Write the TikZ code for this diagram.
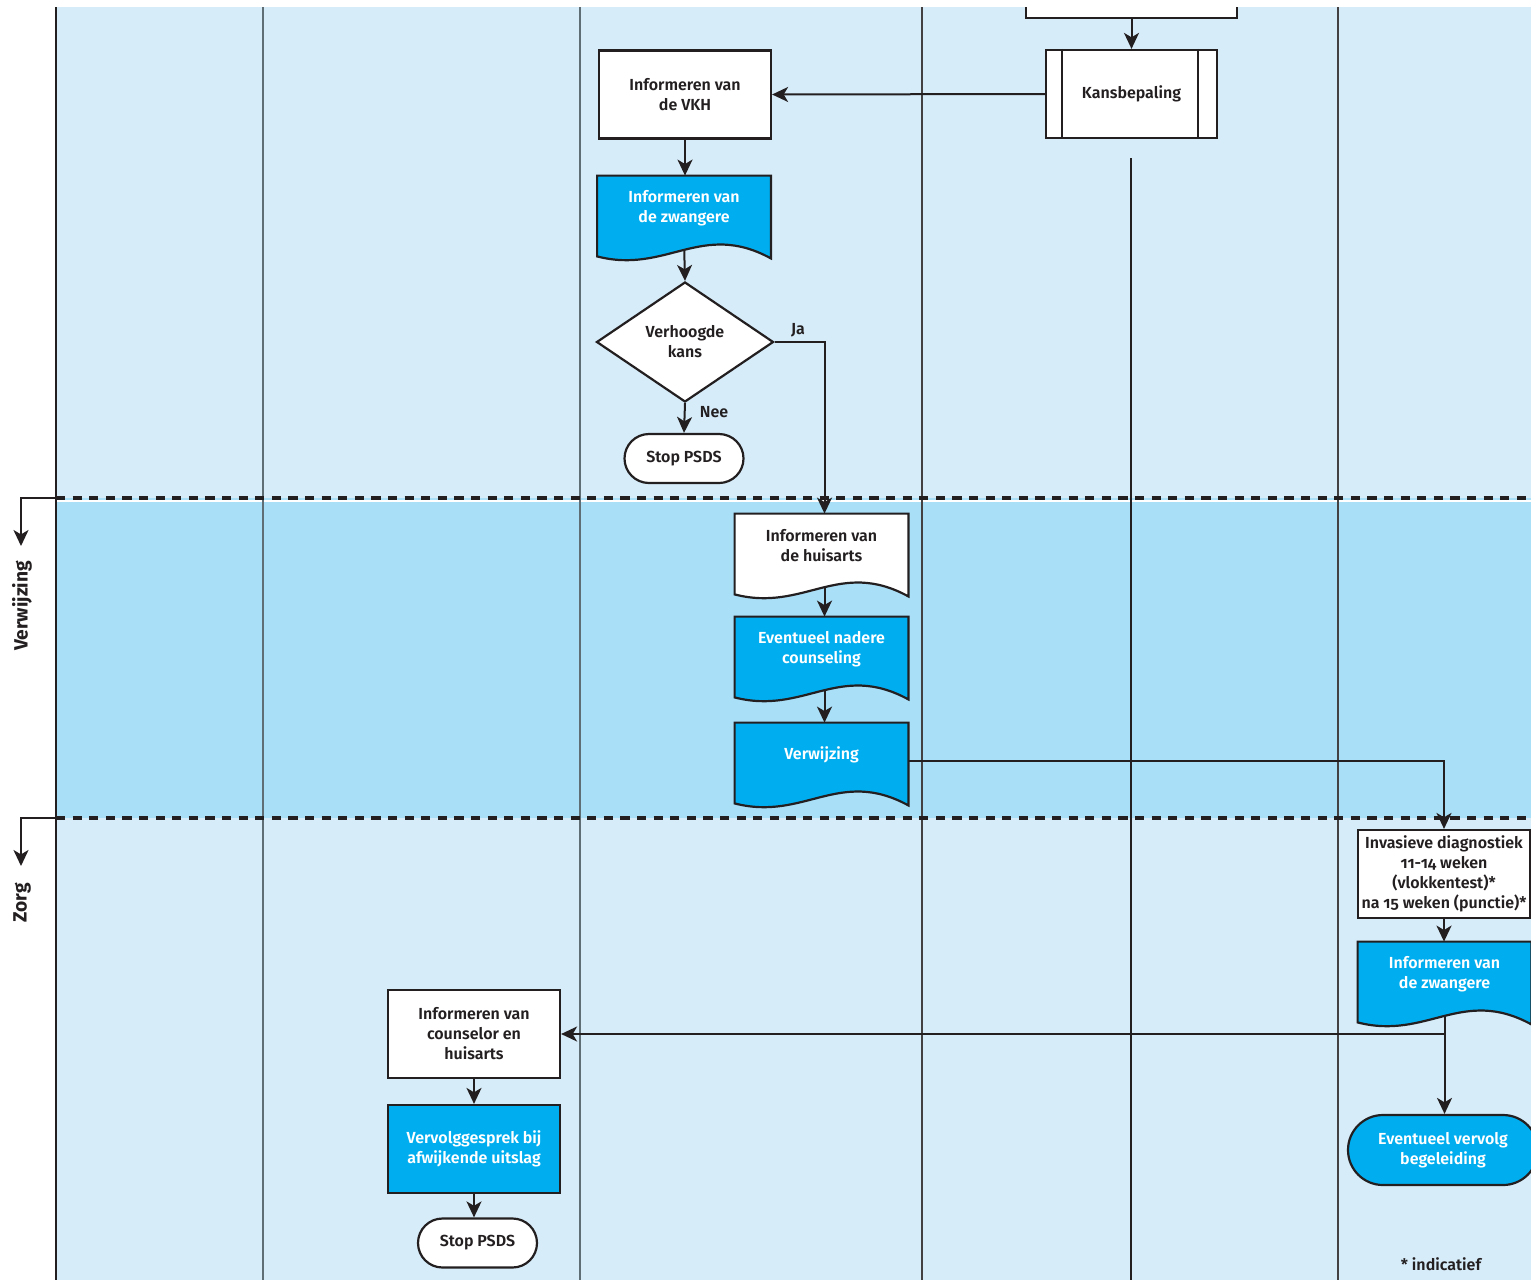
\documentclass[tikz,border=0pt]{standalone}
\usepackage{fontspec}
\setmainfont{Fira Sans}[BoldFont={Fira Sans SemiBold}, Numbers=OldStyle]
\newfontfamily\phasefont{Fira Sans Bold}
\usetikzlibrary{shapes.geometric, arrows.meta, calc}

\definecolor{laneblue}{HTML}{D6ECF9}
\definecolor{bandblue}{HTML}{AADFF8}
\definecolor{boxcyan}{HTML}{00AEEF}
\definecolor{ink}{HTML}{231F20}
\definecolor{lanegray}{HTML}{5E6E74}

\pgfdeclarelayer{lanes}
\pgfdeclarelayer{links}
\pgfdeclarelayer{shapes}
\pgfsetlayers{lanes,links,shapes,main}

\tikzset{
  lbl/.style={font=\fontsize{8}{10}\selectfont\bfseries, text=ink, align=center},
  procbox/.style={lbl, rectangle, draw=ink, line width=1.1pt,
    minimum width=86pt, minimum height=44pt, inner sep=0pt},
  whitebox/.style={procbox, fill=white},
  cyanbox/.style={procbox, fill=boxcyan, text=white},
  docbox/.style={lbl, rectangle, minimum width=86.5pt, minimum height=32pt, inner sep=0pt},
  docline/.style={draw=ink, line width=1.1pt},
  stopbox/.style={lbl, rectangle, rounded corners=12.25pt, draw=ink, line width=1.1pt,
    fill=white, minimum width=59.5pt, minimum height=24.5pt, inner sep=0pt},
  decision/.style={lbl, diamond, draw=ink, line width=1.1pt, fill=white,
    minimum width=88.5pt, minimum height=60pt, inner sep=0pt},
  link/.style={draw=ink, line width=1pt, -{Stealth[length=8pt,width=7.5pt,inset=2.2pt]}},
  laneline/.style={line width=0.9pt},
  phaseline/.style={draw=ink, line width=2.2pt, dash pattern=on 4.6pt off 3.7pt},
  phaselabel/.style={font=\phasefont\fontsize{9.6}{11}\selectfont, text=ink, rotate=90},
  note/.style={font=\fontsize{8}{10}\selectfont\bfseries, text=ink}
}

% outline of a document symbol (wavy bottom) drawn behind its text node
\newcommand\docoutline[2]{%
  \begin{pgfonlayer}{shapes}
    \path[docline, fill=#2]
      ($(#1.south west)+(0,16)$) -- (#1.north west) -- (#1.north east)
      -- ($(#1.south east)+(0,18)$)
      .. controls ($(#1.south west)!0.6!(#1.south east)+(0,-20)$)
             and ($(#1.south west)!0.4!(#1.south east)+(0,34)$)
      .. ($(#1.south west)+(0,16)$) -- cycle;
  \end{pgfonlayer}}

\begin{document}
\begin{tikzpicture}[x=0.5pt, y=-0.5pt]
\useasboundingbox (0,0) rectangle (1531,1280);

% swimlane backgrounds, lane separators and phase borders
\begin{pgfonlayer}{lanes}
  \begin{scope}
    \clip (0,7) rectangle (1531,1280);
    \fill[laneblue] (55,7) rectangle (1531,1280);
    \fill[bandblue] (55,498) rectangle (1531,818);
    \draw[white, line width=1pt] (55,501) -- (1531,501);
    \draw[laneline, lanegray] (263,7) -- (263,1280);
    \draw[laneline, lanegray] (580,7) -- (580,1280);
    \draw[laneline, ink!85] (922,7) -- (922,1280);
    \draw[laneline, ink] (1131,158) -- (1131,1280);
    \draw[laneline, ink!85] (1338,7) -- (1338,1280);
    \draw[phaseline] (56,498) -- (1531,498);
    \draw[phaseline] (56,818) -- (1531,818);
    \draw[ink, line width=1.4pt] (56,7) -- (56,1280);
  \end{scope}
\end{pgfonlayer}

% process symbols
\begin{scope}
  \clip (0,7) rectangle (1531,1280);
  \node[whitebox, minimum width=105.5pt, minimum height=38pt] (prev) at (1131.5,-20) {};
  \node[whitebox, minimum width=85.5pt] (kans) at (1131.5,94) {Kansbepaling};
  \draw[ink, line width=1pt] ([xshift=8.5pt]kans.north west) -- ([xshift=8.5pt]kans.south west);
  \draw[ink, line width=1pt] ([xshift=-10pt]kans.north east) -- ([xshift=-10pt]kans.south east);

  \node[whitebox] (vkh) at (685,94.5) {Informeren van\\de VKH};
  \node[docbox, text=white] (zw1) at (684,208) {Informeren van\\de zwangere};
  \node[decision] (dia) at (685,342) {Verhoogde\\kans};
  \node[stopbox] (stop1) at (684,458.5) {Stop PSDS};

  \node[docbox] (huis) at (821.5,546) {Informeren van\\de huisarts};
  \node[docbox, text=white] (couns) at (821.5,649) {Eventueel nadere\\counseling};
  \node[docbox, text=white] (verw) at (821.5,755) {Verwijzing};

  \node[whitebox] (inv) at (1444,874)
    {Invasieve diagnostiek\\11-14 weken\\(vlokkentest)*\\na 15 weken (punctie)*};
  \node[docbox, text=white] (zw2) at (1444.5,974) {Informeren van\\de zwangere};
  \node[stopbox, fill=boxcyan, text=white, minimum width=95pt, minimum height=35pt,
        rounded corners=17.5pt] (evb) at (1443,1150) {Eventueel vervolg\\begeleiding};

  \node[whitebox] (cou) at (474,1034) {Informeren van\\counselor en\\huisarts};
  \node[cyanbox] (vg) at (474,1149) {Vervolggesprek bij\\afwijkende uitslag};
  \node[stopbox] (stop2) at (477.5,1243) {Stop PSDS};
\end{scope}

\docoutline{zw1}{boxcyan}
\docoutline{huis}{white}
\docoutline{couns}{boxcyan}
\docoutline{verw}{boxcyan}
\docoutline{zw2}{boxcyan}

% phase markers on the left
\coordinate (vwa) at (56,498);
\coordinate (vwb) at (21,546);
\coordinate (zga) at (56,818);
\coordinate (zgb) at (21,866);
\node[phaselabel] (vwlabel) at (22,606) {Verwijzing};
\node[phaselabel] (zglabel) at (22,903) {Zorg};

% connectors
\begin{pgfonlayer}{links}
  \draw[link] (prev.south) -- (kans.north);
  \draw[link] (kans.west) -- (vkh.east);
  \draw[link] (vkh.south) -- (vkh.south |- zw1.north);
  \draw[link] (zw1.south) -- (dia.north);
  \draw[link] (dia.south) -- (stop1.north);
  \draw[link] (dia.east) -| ([xshift=1.5pt]huis.north);
  \draw[link] ([xshift=1.5pt]huis.south) -- ([xshift=1.5pt]couns.north);
  \draw[link] ([xshift=1.5pt]couns.south) -- ([xshift=1.5pt]verw.north);
  \draw[link] ([yshift=-3pt]verw.east) -| (inv.north);
  \draw[link] (inv.south) -- (zw2.north -| inv.south);
  \draw[link] (zw2.south) |- (cou.east);
  \draw[link] (zw2.south) -- (evb.north -| zw2.south);
  \draw[link] (cou.south) -- (vg.north);
  \draw[link] (vg.south) -- (stop2.north -| vg.south);
  \draw[link] (vwa) -| (vwb);
  \draw[link] (zga) -| (zgb);
\end{pgfonlayer}

\node[note] (ja) at (798,330) {Ja};
\node[note] (nee) at (714,412) {Nee};
\node[note] (indic) at (1441,1264) {* indicatief};

\end{tikzpicture}
\end{document}
